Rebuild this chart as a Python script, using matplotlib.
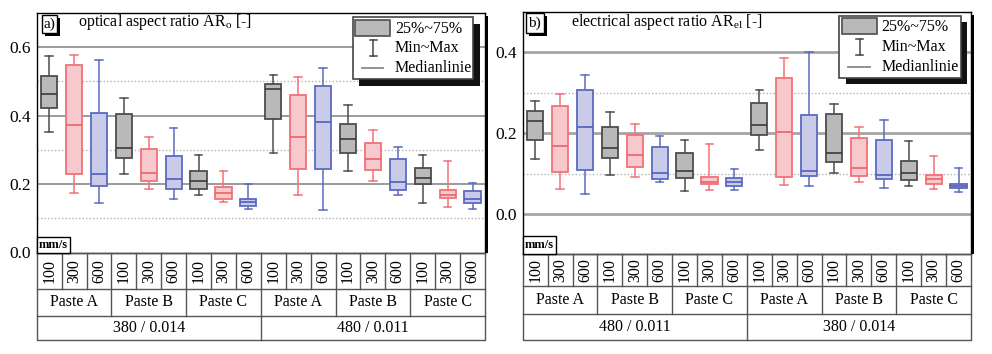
import matplotlib
matplotlib.use("Agg")
import matplotlib.pyplot as plt
from matplotlib.patches import Rectangle
from matplotlib.lines import Line2D

plt.rcParams['font.family'] = 'serif'
plt.rcParams['font.serif'] = ['Liberation Serif', 'DejaVu Serif']
plt.rcParams['mathtext.fontset'] = 'custom'
plt.rcParams['mathtext.rm'] = 'Liberation Serif'
plt.rcParams['mathtext.it'] = 'Liberation Serif:italic'

# ---------------- data ----------------
speeds = ["100", "300", "600"]
pastes = ["Paste A", "Paste B", "Paste C"]
groups_a = ["380 / 0.014", "480 / 0.011"]
groups_b = ["480 / 0.011", "380 / 0.014"]
legend_labels = ["25%~75%", "Min~Max", "Medianlinie"]
title_a = "optical aspect ratio AR$_\\mathrm{o}$ [-]"
title_b = "electrical aspect ratio AR$_\\mathrm{el}$ [-]"

# panel a) optical aspect ratio
a_max = [0.573, 0.576, 0.564, 0.451, 0.337, 0.364, 0.284, 0.238, 0.200,
         0.520, 0.512, 0.539, 0.430, 0.358, 0.308, 0.285, 0.267, 0.203]
a_q3 = [0.516, 0.548, 0.408, 0.405, 0.303, 0.281, 0.238, 0.191, 0.157,
        0.492, 0.461, 0.488, 0.377, 0.319, 0.272, 0.247, 0.183, 0.180]
a_med = [0.464, 0.373, 0.230, 0.305, 0.233, 0.215, 0.209, 0.173, 0.147,
         0.478, 0.339, 0.382, 0.332, 0.272, 0.206, 0.217, 0.167, 0.157]
a_q1 = [0.422, 0.230, 0.194, 0.276, 0.209, 0.185, 0.186, 0.157, 0.135,
        0.390, 0.244, 0.244, 0.291, 0.241, 0.183, 0.199, 0.160, 0.145]
a_min = [0.353, 0.173, 0.145, 0.228, 0.186, 0.157, 0.168, 0.147, 0.128,
         0.292, 0.167, 0.125, 0.237, 0.210, 0.168, 0.144, 0.133, 0.128]

# panel b) electrical aspect ratio
b_max = [0.280, 0.296, 0.343, 0.252, 0.223, 0.194, 0.183, 0.172, 0.111,
         0.306, 0.386, 0.400, 0.271, 0.214, 0.232, 0.180, 0.144, 0.114]
b_q3 = [0.256, 0.266, 0.307, 0.214, 0.195, 0.166, 0.150, 0.092, 0.089,
        0.275, 0.336, 0.245, 0.247, 0.188, 0.183, 0.132, 0.096, 0.074]
b_med = [0.230, 0.167, 0.215, 0.162, 0.147, 0.102, 0.106, 0.079, 0.079,
         0.219, 0.203, 0.107, 0.152, 0.113, 0.096, 0.102, 0.086, 0.069]
b_q1 = [0.184, 0.105, 0.108, 0.138, 0.116, 0.087, 0.089, 0.073, 0.069,
        0.195, 0.092, 0.094, 0.129, 0.095, 0.086, 0.083, 0.073, 0.064]
b_min = [0.136, 0.062, 0.049, 0.096, 0.092, 0.079, 0.056, 0.058, 0.060,
         0.159, 0.072, 0.069, 0.101, 0.079, 0.063, 0.068, 0.061, 0.054]

# ---------------- styling ----------------
FILL = ['#b9b9b9', '#f8c9cc', '#c9cbe8']
EDGE = ['#4d4d4d', '#f07278', '#5b6bc0']
MEDC = ['#3a3a3a', '#f06068', '#5060b8']
FS = 11.5

W, H = 992, 354
fig = plt.figure(figsize=(W / 100, H / 100), dpi=100)


def frect(x0, y0, x1, y1):
    return [x0 / W, 1 - y1 / H, (x1 - x0) / W, (y1 - y0) / H]


def fp(x, y):
    return (x / W, 1 - y / H)


def add_rect(x0, y0, x1, y1, fc, ec, lw=1.0, z=5):
    fig.add_artist(Rectangle(fp(x0, y1), (x1 - x0) / W, (y1 - y0) / H,
                             transform=fig.transFigure, facecolor=fc,
                             edgecolor=ec, lw=lw, zorder=z))


def add_line(xs, ys, color, lw=1.0, z=6, ls='-'):
    fig.add_artist(Line2D([x / W for x in xs], [1 - y / H for y in ys],
                          transform=fig.transFigure, color=color, lw=lw,
                          zorder=z, linestyle=ls))


def panel(x0, x1, ytop, ybot, rows, ylim, major, minor, ticks, mx, q3, med,
          q1, mn, groups, legbox, labbox, label, title, title_x, mmbox,
          gridc, gridlw):
    ax = fig.add_axes(frect(x0, ytop, x1, ybot))
    ax.set_xlim(-0.5, 17.5)
    ax.set_ylim(*ylim)
    for v in major:
        ax.axhline(v, color=gridc, lw=gridlw, zorder=1)
    for v in minor:
        ax.axhline(v, color='#b4b4b4', lw=1.0, ls=(0, (1, 1.5)), zorder=1)
    stats = [dict(med=med[i], q1=q1[i], q3=q3[i], whislo=mn[i],
                  whishi=mx[i], fliers=[]) for i in range(len(med))]
    bp = ax.bxp(stats, positions=list(range(len(med))), widths=0.65,
                patch_artist=True, showfliers=False, capwidths=0.3,
                manage_ticks=False)
    for i in range(len(med)):
        k = i % 3
        bp['boxes'][i].set(facecolor=FILL[k], edgecolor=EDGE[k], lw=1.3,
                           zorder=3)
        for w in bp['whiskers'][2 * i:2 * i + 2]:
            w.set(color=EDGE[k], lw=1.1, zorder=2)
        for c in bp['caps'][2 * i:2 * i + 2]:
            c.set(color=EDGE[k], lw=1.1, zorder=2)
        bp['medians'][i].set(color=MEDC[k], lw=1.2, zorder=4)
    ax.set_xticks([])
    ax.set_yticks(ticks)
    ax.set_yticklabels([f"{v:.1f}" for v in ticks], fontsize=12.5)
    ax.tick_params(axis='y', length=0, pad=4)
    for s in ax.spines.values():
        s.set_color('black')
        s.set_linewidth(1.0)

    # frame shadow on right
    add_rect(x1, ytop + 3, x1 + 3, ybot, 'black', 'none', lw=0, z=2)

    # mm/s box
    add_rect(mmbox[0], mmbox[1], mmbox[2], mmbox[3], 'white', 'black', 1.0, 7)
    fig.text(*fp((mmbox[0] + mmbox[2]) / 2, (mmbox[1] + mmbox[3]) / 2 + 0.5),
             "mm/s", ha='center', va='center', fontsize=9, weight='bold',
             zorder=8)

    # label box a)/b) with shadow
    lx0, ly0, lx1, ly1 = labbox
    add_rect(lx0 + 3, ly0 + 3, lx1 + 3, ly1 + 3, 'black', 'none', 0, 6)
    add_rect(lx0, ly0, lx1, ly1, 'white', 'black', 1.0, 7)
    fig.text(*fp((lx0 + lx1) / 2, (ly0 + ly1) / 2), label, ha='center',
             va='center', fontsize=11, zorder=8)
    fig.text(*fp(title_x, 22), title, ha='left', va='center', fontsize=FS,
             zorder=8)

    # legend with shadow
    gx0, gy0, gx1, gy1 = legbox
    add_rect(gx0 + 6.5, gy0 + 6.5, gx1 + 6.5, gy1 + 6.5, '#111111', 'none',
             0, 6)
    add_rect(gx0, gy0, gx1, gy1, 'white', '#444444', 1.2, 7)
    add_rect(gx0 + 2.5, gy0 + 2.7, gx0 + 37.5, gy0 + 18.7, FILL[0], EDGE[0],
             1.2, 8)
    cx = gx0 + 20.3
    add_line([cx, cx], [gy0 + 23, gy0 + 39], '#444444', 1.1, 8)
    add_line([cx - 3.5, cx + 3.5], [gy0 + 23, gy0 + 23], '#444444', 1.1, 8)
    add_line([cx - 3.5, cx + 3.5], [gy0 + 39, gy0 + 39], '#444444', 1.1, 8)
    add_line([gx0 + 9, gx0 + 30.5], [gy0 + 51, gy0 + 51], '#888888', 1.3, 8)
    for j, yy in enumerate([gy0 + 11.5, gy0 + 31, gy0 + 51]):
        fig.text(*fp(gx0 + 42.3, yy), legend_labels[j], ha='left',
                 va='center', fontsize=FS, zorder=9)

    # category table below
    colw = (x1 - x0) / 18
    r0, r1, r2, r3 = rows
    lc = '#555555'
    add_line([x0, x1, x1, x0, x0], [r0, r0, r3, r3, r0], lc, 1.0)
    add_line([x0, x1], [r1, r1], lc, 1.0)
    add_line([x0, x1], [r2, r2], lc, 1.0)
    for i in range(1, 18):
        xb = x0 + i * colw
        if i % 9 == 0:
            add_line([xb, xb], [r0, r3], lc, 1.0)
        elif i % 3 == 0:
            add_line([xb, xb], [r0, r2], lc, 1.0)
        else:
            add_line([xb, xb], [r0, r1], lc, 1.0)
    for i in range(18):
        xc = x0 + (i + 0.5) * colw
        fig.text(*fp(xc, (r0 + r1) / 2), speeds[i % 3], rotation=90,
                 ha='center', va='center', fontsize=FS, zorder=8)
    for g in range(6):
        xc = x0 + (g * 3 + 1.5) * colw
        fig.text(*fp(xc, (r1 + r2) / 2), pastes[g % 3], ha='center',
                 va='center', fontsize=FS, zorder=8)
    for g in range(2):
        xc = x0 + (g * 9 + 4.5) * colw
        fig.text(*fp(xc, (r2 + r3) / 2), groups[g], ha='center',
                 va='center', fontsize=FS, zorder=8)
    return ax


panel(36.7, 485, 13, 252.5, [252.5, 289.3, 315.7, 340], (0, 0.7),
      [0.2, 0.4, 0.6], [0.1, 0.3, 0.5], [0.0, 0.2, 0.4, 0.6],
      a_max, a_q3, a_med, a_q1, a_min, groups_a,
      (352.7, 17.3, 473.3, 79), (41.7, 15, 56.7, 33), "a)", title_a, 77.7,
      (36.7, 236.7, 70, 252.5), '#8a8a8a', 1.2)

panel(522.7, 971, 12, 254.3, [254.3, 285.7, 314.3, 340], (-0.1, 0.5),
      [0.0, 0.2, 0.4], [0.1, 0.3], [0.0, 0.2, 0.4],
      b_max, b_q3, b_med, b_q1, b_min, groups_b,
      (839.3, 15.7, 960.7, 77.7), (525.7, 13.3, 544, 33.3), "b)", title_b,
      570.7, (522.7, 235.7, 556, 254.3), '#a5a5a5', 2.0)

fig.savefig("out.png", dpi=100)
